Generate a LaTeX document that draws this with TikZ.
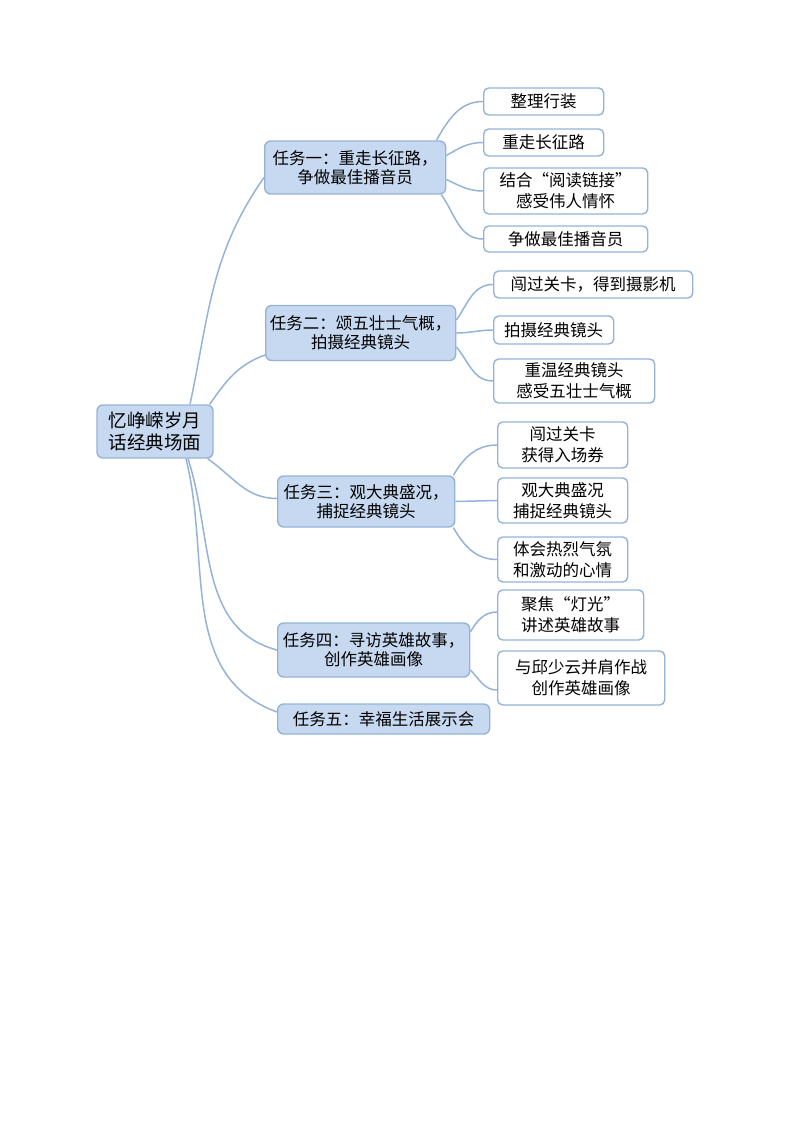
\documentclass[tikz,border=0pt]{standalone}
\usepackage{fontspec}
\newfontfamily\cjk{Noto Sans CJK SC}
\usetikzlibrary{positioning, calc}
\definecolor{boxblue}{HTML}{C6D9F0}
\definecolor{lineblue}{HTML}{95B3D7}

\begin{document}
\begin{tikzpicture}[
      x=1pt, y=-1pt,
      every node/.style={font=\cjk\fontsize{16.5}{20}\selectfont, inner sep=2pt},
      root/.style={rectangle, rounded corners=6pt, draw=lineblue, fill=boxblue, line width=1.4pt, align=center, font=\cjk\fontsize{18.5}{22}\selectfont, minimum width=116pt, minimum height=53pt},
      task/.style={rectangle, rounded corners=6pt, draw=lineblue, fill=boxblue, line width=1.4pt, align=center, anchor=west, font=\cjk\fontsize{16.5}{19}\selectfont},
      leaf/.style={rectangle, rounded corners=5pt, draw=lineblue, fill=white, line width=1.4pt, align=center, anchor=west, font=\cjk\fontsize{16.5}{21}\selectfont},
      branch/.style={draw=lineblue, line width=1.5pt}
    ]

    \useasboundingbox (0,0) rectangle (800,1132);

    % Nodes
    \node[root] (root) at (155,431.5) {忆峥嵘岁月\\话经典场面};

    \node[task, minimum width=181pt, minimum height=53pt] (t1) at (264,167.5) {任务一：重走长征路，\\争做最佳播音员};
    \node[task, minimum width=190pt, minimum height=55pt] (t2) at (265,333) {任务二：颂五壮士气概，\\拍摄经典镜头};
    \node[task, minimum width=177pt, minimum height=51pt] (t3) at (277,501.5) {任务三：观大典盛况，\\捕捉经典镜头};
    \node[task, minimum width=192pt, minimum height=54pt] (t4) at (277,650) {任务四：寻访英雄故事，\\创作英雄画像};
    \node[task, minimum width=212pt, minimum height=30pt] (t5) at (277,719) {任务五：幸福生活展示会};

    \node[leaf, minimum width=120pt, minimum height=27pt] (l1a) at (483,101.5) {整理行装};
    \node[leaf, minimum width=120pt, minimum height=27pt] (l1b) at (483,142.5) {重走长征路};
    \node[leaf, minimum width=164pt, minimum height=46pt] (l1c) at (483,191) {结合“阅读链接”\\感受伟人情怀};
    \node[leaf, minimum width=164pt, minimum height=26pt] (l1d) at (483,239) {争做最佳播音员};

    \node[leaf, minimum width=199pt, minimum height=27pt] (l2a) at (493,284.5) {闯过关卡，得到摄影机};
    \node[leaf, minimum width=120pt, minimum height=28pt] (l2b) at (493,330) {拍摄经典镜头};
    \node[leaf, minimum width=161pt, minimum height=44pt] (l2c) at (493,381) {重温经典镜头\\感受五壮士气概};

    \node[leaf, minimum width=130pt, minimum height=46pt] (l3a) at (497,445) {闯过关卡\\获得入场券};
    \node[leaf, minimum width=130pt, minimum height=45pt] (l3b) at (497,500.5) {观大典盛况\\捕捉经典镜头};
    \node[leaf, minimum width=130pt, minimum height=45pt] (l3c) at (497,559.5) {体会热烈气氛\\和激动的心情};

    \node[leaf, minimum width=146pt, minimum height=50pt] (l4a) at (497,615) {聚焦“灯光”\\讲述英雄故事};
    \node[leaf, minimum width=167pt, minimum height=54pt] (l4b) at (497,678) {与邱少云并肩作战\\创作英雄画像};

    % Branches from the centre
    \draw[branch] ($(root.north)+(35,0)$) to[out=78, in=235] ($(t1.west)+(0,10)$);
    \draw[branch] ($(root.north east)+(-4,0)$) to[out=55, in=200] ($(t2.west)+(0,22)$);
    \draw[branch] ($(root.south east)+(-6,0)$) to[out=-35, in=180] ($(t3.west)+(0,-3)$);
    \draw[branch] ($(root.south)+(33,0)$) to[out=-72, in=165] (t4.west);
    \draw[branch] ($(root.south)+(31,0)$) to[out=-76, in=160] ($(t5.west)+(0,-7)$);

    % Branches to the leaves
    \draw[branch] ($(t1.north east)+(-10,0)$) to[out=60, in=180] (l1a.west);
    \draw[branch] ($(t1.east)+(0,-12)$) to[out=30, in=180] (l1b.west);
    \draw[branch] ($(t1.east)+(0,12)$) to[out=-25, in=180] (l1c.west);
    \draw[branch] ($(t1.south east)+(-5,0)$) to[out=-55, in=180] (l1d.west);

    \draw[branch] ($(t2.east)+(0,-13)$) to[out=55, in=180] (l2a.west);
    \draw[branch] (t2.east) to[out=0, in=180] (l2b.west);
    \draw[branch] ($(t2.east)+(0,14)$) to[out=-50, in=180] (l2c.west);

    \draw[branch] ($(t3.north east)+(-2,0)$) to[out=60, in=180] (l3a.west);
    \draw[branch] (t3.east) -- (l3b.west);
    \draw[branch] ($(t3.south east)+(-2,0)$) to[out=-60, in=180] (l3c.west);

    \draw[branch] ($(t4.east)+(0,-18)$) to[out=60, in=180] ($(l4a.west)+(0,-3)$);
    \draw[branch] ($(t4.east)+(0,20)$) to[out=-45, in=180] ($(l4b.west)+(0,12)$);

\end{tikzpicture}
\end{document}
